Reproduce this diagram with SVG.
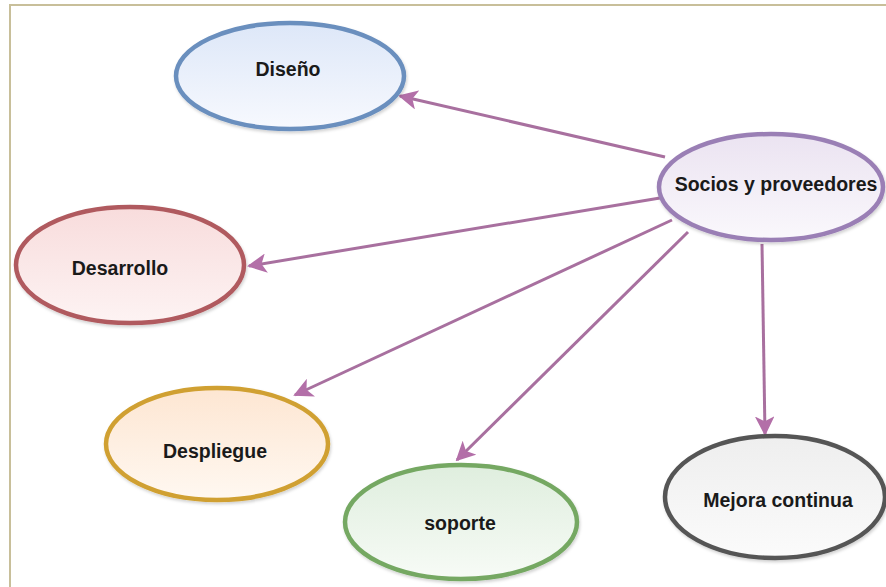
<svg xmlns="http://www.w3.org/2000/svg" width="886" height="587" viewBox="0 0 886 587">
  <style>
    .lbl { font-family: "Liberation Sans", Arial, sans-serif; font-size: 19.5px; font-weight: bold; fill: #1a1a1a; text-anchor: middle; dominant-baseline: central; }
    .node ellipse { stroke-width: 4.5; filter: url(#shade); }
    .conn line { stroke: #a8709f; stroke-width: 3; fill: none; marker-end: url(#head); }
  </style>
  <defs>
    <filter id="shade" x="-10%" y="-10%" width="120%" height="130%">
      <feDropShadow dx="1" dy="2" stdDeviation="1.5" flood-color="#000000" flood-opacity="0.18"/>
    </filter>
    <marker id="head" viewBox="0 0 10 10" refX="9" refY="5" markerWidth="6.5" markerHeight="6.5" markerUnits="strokeWidth" orient="auto">
      <path d="M0,0 L10,5 L0,10 L2.5,5 Z" fill="#b36fa8"/>
    </marker>
    <linearGradient id="gBlue" x1="0" y1="0" x2="0" y2="1"><stop offset="0" stop-color="#dde7f8"/><stop offset="1" stop-color="#f7f9fe"/></linearGradient>
    <linearGradient id="gPurple" x1="0" y1="0" x2="0" y2="1"><stop offset="0" stop-color="#ebe3f1"/><stop offset="1" stop-color="#faf8fc"/></linearGradient>
    <linearGradient id="gRed" x1="0" y1="0" x2="0" y2="1"><stop offset="0" stop-color="#f8dcdc"/><stop offset="1" stop-color="#fdf3f3"/></linearGradient>
    <linearGradient id="gOrange" x1="0" y1="0" x2="0" y2="1"><stop offset="0" stop-color="#fde6d2"/><stop offset="1" stop-color="#fff8f1"/></linearGradient>
    <linearGradient id="gGreen" x1="0" y1="0" x2="0" y2="1"><stop offset="0" stop-color="#dfeede"/><stop offset="1" stop-color="#f7fbf6"/></linearGradient>
    <linearGradient id="gGrey" x1="0" y1="0" x2="0" y2="1"><stop offset="0" stop-color="#eeeeee"/><stop offset="1" stop-color="#fbfbfb"/></linearGradient>
  </defs>

  <!-- page frame -->
  <rect x="0" y="0" width="886" height="587" fill="#ffffff"/>
  <path d="M10,600 L10,5 L900,5" fill="none" stroke="#c8bf9a" stroke-width="2"/>

  <!-- connectors from the central node -->
  <g id="connectors" class="conn">
    <line x1="665" y1="157" x2="400" y2="96"/>
    <line x1="660" y1="198" x2="249" y2="266"/>
    <line x1="672" y1="220" x2="295" y2="395"/>
    <line x1="688" y1="232" x2="457" y2="460"/>
    <line x1="762" y1="244" x2="765" y2="434"/>
  </g>

  <g id="n-diseno" class="node">
    <ellipse cx="290" cy="76" rx="114" ry="53" fill="url(#gBlue)" stroke="#6a8fbe"/>
    <text class="lbl" x="288" y="69">Diseño</text>
  </g>

  <g id="n-socios" class="node">
    <ellipse cx="771" cy="187" rx="112" ry="53" fill="url(#gPurple)" stroke="#9a7fb5"/>
    <text class="lbl" x="776" y="184">Socios y proveedores</text>
  </g>

  <g id="n-desarrollo" class="node">
    <ellipse cx="130" cy="265" rx="114" ry="58" fill="url(#gRed)" stroke="#b05a5e"/>
    <text class="lbl" x="120" y="268">Desarrollo</text>
  </g>

  <g id="n-despliegue" class="node">
    <ellipse cx="217" cy="444" rx="111" ry="56" fill="url(#gOrange)" stroke="#d0a030"/>
    <text class="lbl" x="215" y="451">Despliegue</text>
  </g>

  <g id="n-soporte" class="node">
    <ellipse cx="461" cy="522" rx="116" ry="57" fill="url(#gGreen)" stroke="#74a862"/>
    <text class="lbl" x="460" y="523">soporte</text>
  </g>

  <g id="n-mejora" class="node">
    <ellipse cx="775" cy="497" rx="110" ry="61" fill="url(#gGrey)" stroke="#555555"/>
    <text class="lbl" x="778" y="500">Mejora continua</text>
  </g>
</svg>
